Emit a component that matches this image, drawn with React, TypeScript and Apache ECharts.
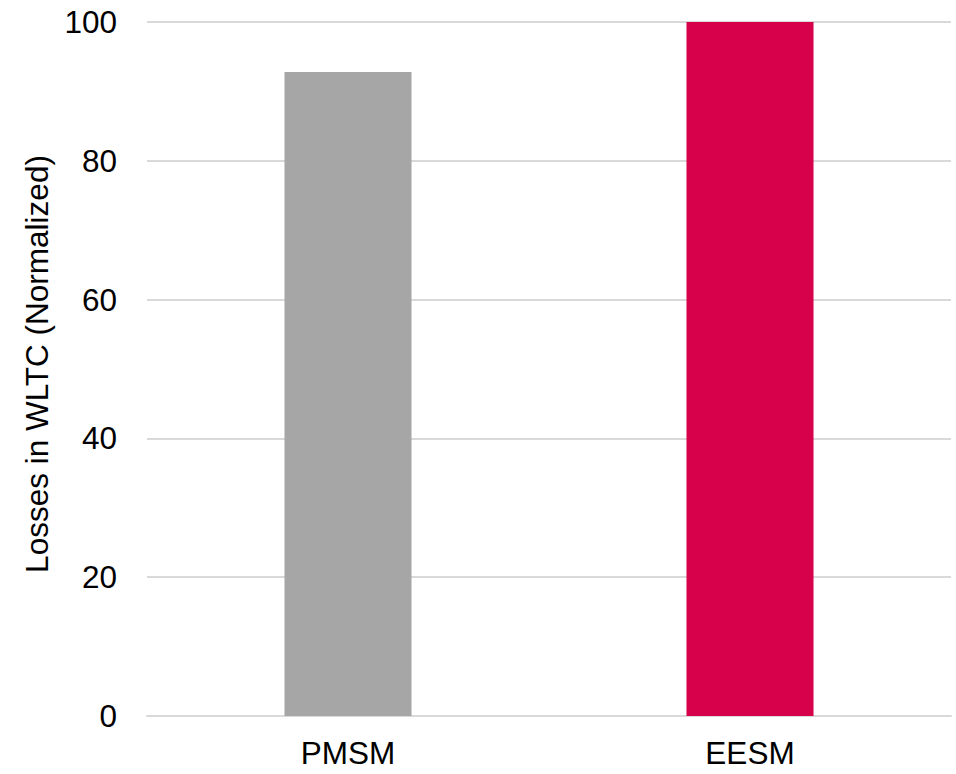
import React, { useEffect, useRef } from "react";
import * as echarts from "echarts";

const categories = ["PMSM", "EESM"];
const losses = [92.8, 100];
const barColors = ["#a6a6a6", "#d7004b"];
const yTicks = { min: 0, max: 100, interval: 20 };
const yTitle = "Losses in WLTC (Normalized)";

const FONT = "'Liberation Sans', Arial, Helvetica, sans-serif";

export default function App() {
  const ref = useRef<HTMLDivElement>(null);

  useEffect(() => {
    if (!ref.current) return;
    const chart = echarts.init(ref.current, undefined, { renderer: "svg" });
    chart.setOption({
      animation: false,
      backgroundColor: "#ffffff",
      textStyle: { fontFamily: FONT },
      grid: { left: 147, right: 5, top: 22, bottom: 58, containLabel: false },
      xAxis: {
        type: "category",
        data: categories,
        axisLine: { show: true, lineStyle: { color: "#d9d9d9", width: 2 } },
        axisTick: { show: false },
        axisLabel: { color: "#000", fontSize: 31.5, margin: 21, fontFamily: FONT },
      },
      yAxis: {
        type: "value",
        min: yTicks.min,
        max: yTicks.max,
        interval: yTicks.interval,
        name: yTitle,
        nameLocation: "middle",
        nameGap: 94,
        nameTextStyle: {
          color: "#000",
          fontSize: 31.5,
          fontFamily: FONT,
          padding: [0, 0, 0, 10],
        },
        axisLine: { show: false },
        axisTick: { show: false },
        axisLabel: { color: "#000", fontSize: 31.5, margin: 30, fontFamily: FONT },
        splitLine: { show: true, lineStyle: { color: "#d9d9d9", width: 2 } },
      },
      series: [
        {
          type: "bar",
          barWidth: "31.6%",
          data: losses.map((v, i) => ({ value: v, itemStyle: { color: barColors[i] } })),
        },
      ],
    });
    return () => chart.dispose();
  }, []);

  return <div ref={ref} style={{ width: 956, height: 774, position: "absolute", left: 0, top: 0 }} />;
}
